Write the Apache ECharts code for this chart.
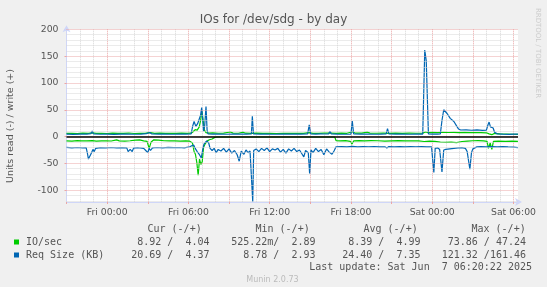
<!DOCTYPE html>
<html>
<head>
<meta charset="utf-8">
<script src="https://cdn.jsdelivr.net/npm/echarts@6/dist/echarts.min.js"></script>
<style>
  html, body { margin: 0; padding: 0; background: #f0f0f0; }
  #chart { width: 547px; height: 287px; }
</style>
</head>
<body>
<div id="chart"></div>
<script>
// hours relative to Fri 00:00, graph runs Thu 21:00 -> Sat 06:20
const tickHours = [0, 6, 12, 18, 24, 30];
const tickLabels = ['Fri 00:00', 'Fri 06:00', 'Fri 12:00', 'Fri 18:00', 'Sat 00:00', 'Sat 06:00'];
const yTicks = [-100, -50, 0, 50, 100, 150, 200];

// IO/sec, read values are drawn below zero
const ioRead = [[-3.0,8.0],[-2.6,8.4],[-2.2,7.6],[-1.9,8.2],[-1.5,8.0],[-1.1,7.4],[-0.8,8.5],[-0.4,8.1],[0.0,8.0],[0.3,8.3],[0.7,6.2],[0.9,8.0],[1.3,8.4],[1.7,7.8],[2.1,6.8],[2.4,6.3],[2.7,7.9],[2.95,9.0],[3.1,22],[3.25,10],[3.45,6.0],[3.8,6.5],[4.2,7.8],[4.6,8.2],[5.0,8.0],[5.4,8.6],[5.8,8.1],[6.1,8.6],[6.3,12],[6.42,28],[6.52,33],[6.62,48],[6.72,72],[6.82,42],[6.92,52],[7.02,47],[7.12,20],[7.25,13],[7.4,8],[7.55,6],[7.75,4.5],[7.95,1.5],[8.1,0.6],[9.5,0.55],[11.0,0.6],[12.5,0.55],[14.0,0.6],[15.5,0.55],[16.8,0.6],[16.9,7.4],[17.2,8.0],[17.6,7.6],[17.95,8.8],[18.08,14],[18.2,8.2],[18.6,7.6],[19.0,7.9],[19.5,7.5],[20.0,7.8],[20.5,8.4],[21.0,8.0],[21.5,7.7],[22.0,8.1],[22.5,7.8],[23.0,8.2],[23.4,9.2],[23.8,8.6],[24.2,9.0],[24.6,10.2],[25.0,11.0],[25.4,10.3],[25.8,11.2],[26.2,9.2],[26.6,8.4],[27.0,7.8],[27.4,7.6],[27.8,8.0],[28.05,9],[28.15,22],[28.28,12],[28.4,24],[28.52,9],[28.9,8.4],[29.4,8.8],[29.9,8.6],[30.33,8.92]];
const ioWrite = [[-3.0,5.8],[-2.6,6.2],[-2.2,5.6],[-1.8,6.4],[-1.4,5.8],[-1.1,6.8],[-0.8,5.9],[-0.4,6.1],[0.0,5.7],[0.4,6.3],[0.8,5.8],[1.2,6.0],[1.6,6.6],[2.0,5.7],[2.4,6.2],[2.8,5.9],[3.0,6.8],[3.2,7.5],[3.5,6.0],[3.9,6.3],[4.3,5.8],[4.7,6.2],[5.1,5.9],[5.5,6.3],[5.9,6.0],[6.2,6.3],[6.35,9],[6.5,13],[6.65,12],[6.8,18],[6.9,30],[7.0,47.24],[7.1,44],[7.18,12],[7.3,7.5],[7.5,6.5],[7.8,6.8],[8.2,6.2],[8.6,6.5],[9.1,8.5],[9.3,6.4],[9.7,6.2],[10.05,8.2],[10.2,6.3],[10.6,6.0],[11.0,6.4],[11.5,5.8],[12.0,6.1],[12.5,5.7],[13.0,6.0],[13.5,5.8],[14.0,6.2],[14.5,5.9],[14.9,7.5],[15.2,6.1],[15.6,6.0],[16.0,6.3],[16.5,6.6],[16.9,6.0],[17.3,6.4],[17.7,6.1],[18.1,9.0],[18.3,6.5],[18.8,6.3],[19.2,8.2],[19.4,6.4],[19.9,6.2],[20.4,6.5],[20.8,6.0],[21.3,6.3],[21.8,6.1],[22.3,6.4],[22.8,6.2],[23.3,6.5],[23.5,8.5],[23.7,7.5],[24.0,7.8],[24.4,7.2],[24.8,8.0],[25.2,7.6],[25.6,7.9],[26.0,7.4],[26.4,7.8],[26.8,7.2],[27.2,7.6],[27.6,7.3],[28.0,7.0],[28.2,5.0],[28.4,3.5],[28.6,6.0],[29.0,5.2],[29.5,4.8],[30.0,4.3],[30.33,4.04]];

// Req Size (KB)
const reqRead = [[-3.0,20.2],[-2.6,21.0],[-2.2,20.4],[-1.8,21.2],[-1.55,20.8],[-1.45,32],[-1.38,42],[-1.25,42],[-1.15,30],[-1.05,24],[-0.95,28],[-0.85,22],[-0.5,20.6],[-0.1,21.0],[0.3,20.4],[0.7,21.2],[1.1,20.6],[1.45,21.0],[1.55,28],[1.7,24],[1.85,28],[1.95,21.5],[2.3,20.8],[2.7,22],[2.85,26],[3.0,30],[3.1,22],[3.2,26],[3.35,21],[3.7,20.4],[4.1,20.9],[4.5,20.2],[4.9,20.8],[5.3,20.4],[5.7,21.0],[6.1,19.0],[6.25,17],[6.4,16],[6.5,22],[6.65,28],[6.8,33],[6.95,40],[7.05,25],[7.15,14],[7.25,12],[7.35,8],[7.5,12],[7.6,22],[7.75,26],[7.9,22],[8.05,30],[8.2,24],[8.4,27],[8.6,22],[8.8,29],[9.0,23],[9.2,31],[9.4,26],[9.6,34],[9.75,46],[9.9,27],[10.1,33],[10.25,25],[10.4,30],[10.55,27],[10.68,30],[10.75,121.32],[10.82,26],[11.0,23],[11.2,28],[11.4,22],[11.6,26],[11.8,21],[12.0,28],[12.2,23],[12.4,25],[12.6,22],[12.8,29],[13.0,24],[13.2,31],[13.4,23],[13.6,27],[13.8,22],[14.0,28],[14.2,25],[14.4,33],[14.52,38],[14.65,26],[14.85,30],[14.95,69],[15.05,25],[15.2,30],[15.4,22],[15.6,28],[15.8,24],[16.0,34],[16.2,23],[16.4,29],[16.6,33],[16.75,27],[16.9,19],[17.3,18.6],[17.7,19.2],[18.1,18.4],[18.5,19.4],[18.9,18.6],[19.3,19.0],[19.7,18.5],[20.1,19.2],[20.5,19.0],[20.65,21.5],[20.8,18.7],[21.2,19.1],[21.6,18.6],[22.0,19.2],[22.4,18.7],[22.8,19.0],[23.2,18.6],[23.6,19.1],[23.95,19.0],[24.12,67],[24.22,22],[24.4,21],[24.55,24],[24.72,66],[24.85,25],[25.0,24],[25.3,23],[25.6,22],[25.9,21],[26.2,20.5],[26.45,22],[26.58,28],[26.68,25],[26.78,61],[26.9,30],[27.0,23],[27.3,19.2],[27.6,18.6],[28.0,19.1],[28.4,18.7],[28.8,19.3],[29.2,18.8],[29.6,19.4],[30.0,19.8],[30.33,20.69]];
const reqWrite = [[-3.0,4.5],[-2.5,4.2],[-2.0,4.6],[-1.5,4.4],[-1.2,5.5],[-1.1,10.5],[-1.0,5.0],[-0.5,4.3],[0.0,4.6],[0.5,4.2],[1.0,4.5],[1.5,4.8],[2.0,4.3],[2.5,4.6],[2.9,5.5],[3.0,8.0],[3.15,7.5],[3.3,4.8],[3.8,4.4],[4.3,4.6],[4.8,4.3],[5.3,4.5],[5.8,4.4],[6.2,4.8],[6.32,20],[6.42,28],[6.55,19],[6.68,24],[6.8,26],[6.9,40],[6.98,54],[7.06,30],[7.12,10],[7.2,20],[7.3,56],[7.38,12],[7.45,5.0],[7.8,4.4],[8.3,4.7],[8.8,4.3],[9.3,4.6],[9.8,4.4],[10.3,4.5],[10.65,5],[10.72,38],[10.8,5],[11.3,4.4],[11.8,4.6],[12.3,4.3],[12.8,4.5],[13.3,4.4],[13.8,4.7],[14.3,4.4],[14.8,4.8],[14.92,22],[15.02,5],[15.4,4.6],[15.75,5],[15.85,8],[15.95,4.8],[16.35,5],[16.45,10],[16.55,5],[17.0,4.5],[17.5,4.3],[18.0,4.6],[18.1,29],[18.2,4.8],[18.7,4.4],[19.2,4.6],[19.7,4.3],[20.2,4.5],[20.6,5],[20.7,15],[20.8,5],[21.3,4.4],[21.8,4.6],[22.3,4.3],[22.8,4.5],[23.3,4.6],[23.4,6],[23.45,161.46],[23.53,161],[23.56,141],[23.68,140],[23.72,5],[24.0,4.6],[24.4,4.4],[24.6,5.0],[24.72,30],[24.85,50],[24.95,48],[25.1,43],[25.2,42],[25.33,34],[25.45,33],[25.6,28],[25.7,27],[25.82,19],[25.95,14],[26.1,12.2],[26.5,12.6],[26.9,11.8],[27.3,12.4],[27.7,11.6],[28.0,12.0],[28.12,22],[28.2,27],[28.3,18],[28.4,17],[28.5,16],[28.6,8],[28.8,5],[29.2,4.6],[29.7,4.2],[30.0,4.5],[30.33,4.37]];

// legend table
const statHeaders = ['Cur (-/+)', 'Min (-/+)', 'Avg (-/+)', 'Max (-/+)'];
const ioStats = ['8.92 /  4.04', '525.22m/  2.89', '8.39 /  4.99', '73.86 / 47.24'];
const reqStats = ['20.69 /  4.37', '8.78 /  2.93', '24.40 /  7.35', '121.32 /161.46'];

const GREEN = '#00cc00';
const BLUE = '#0066b3';
const FONT_COLOR = '#555';
const AXIS_COLOR = '#cfd6f8';
const MGRID = '#eba6a6';
const GRID = '#d6d6d6';

const neg = arr => arr.map(p => [p[0], -p[1]]);

function lineSeries(name, data, color, extra) {
  return Object.assign({
    name: name,
    type: 'line',
    data: data,
    symbol: 'none',
    showSymbol: false,
    lineStyle: { color: color, width: 1.2 },
    itemStyle: { color: color },
    silent: true
  }, extra || {});
}

// horizontal grid: every 10 units gray, every 50 red (y axis min is not a round value)
const hGrid = [];
for (let v = -120; v < 200; v += 10) {
  if (v % 50 !== 0) hGrid.push({ yAxis: v, lineStyle: { color: GRID, type: 'dotted', width: 1 } });
}
yTicks.forEach(v => hGrid.push({ yAxis: v, lineStyle: { color: MGRID, type: 'dotted', width: 1 } }));

const headerX = [147.5, 255.5, 363.5, 471.5];
const valueX = [209.5, 315.5, 420.5, 526];
const mono = '10px "DejaVu Sans Mono"';

function txt(x, y, text, font, fill, align, rotation) {
  return {
    type: 'text', x: x, y: y, rotation: rotation || 0,
    style: { text: text, font: font, fill: fill, align: align, verticalAlign: 'middle', textAlign: align, textVerticalAlign: 'middle' }
  };
}

const graphics = [
  txt(273.5, 20, 'IOs for /dev/sdg - by day', '12px "DejaVu Sans"', FONT_COLOR, 'center'),
  txt(11, 126, 'Units read (-) / write (+)', '9.5px "DejaVu Sans"', FONT_COLOR, 'center', Math.PI / 2),
  txt(537.5, 53, 'RRDTOOL / TOBI OETIKER', '7px "DejaVu Sans"', '#cccccc', 'center', -Math.PI / 2),
  { type: 'rect', shape: { x: 14, y: 239.5, width: 5, height: 5 }, style: { fill: GREEN } },
  { type: 'rect', shape: { x: 14, y: 252.5, width: 5, height: 5 }, style: { fill: BLUE } },
  txt(26, 242.5, 'IO/sec', mono, FONT_COLOR, 'left'),
  txt(26, 255.5, 'Req Size (KB)', mono, FONT_COLOR, 'left'),
  txt(532, 267, 'Last update: Sat Jun  7 06:20:22 2025', mono, FONT_COLOR, 'right'),
  txt(272.5, 280, 'Munin 2.0.73', '8px "DejaVu Sans"', '#bbbbbb', 'center')
];
statHeaders.forEach((t, i) => {
  graphics.push(txt(headerX[i], 229.5, t, mono, FONT_COLOR, 'left'));
  graphics.push(txt(valueX[i], 242.5, ioStats[i], mono, FONT_COLOR, 'right'));
  graphics.push(txt(valueX[i], 255.5, reqStats[i], mono, FONT_COLOR, 'right'));
});

const chart = echarts.init(document.getElementById('chart'));
chart.setOption({
  backgroundColor: '#f0f0f0',
  animation: false,
  grid: { left: 66.5, top: 29.3, width: 451.5, height: 172.7, show: true, backgroundColor: '#ffffff', borderWidth: 0 },
  xAxis: {
    type: 'value',
    min: -3,
    max: 30.3333,
    interval: 3,
    axisLine: { onZero: false, lineStyle: { color: AXIS_COLOR, width: 1 }, symbol: ['none', 'arrow'], symbolSize: [6, 7], symbolOffset: [0, 4] },
    axisTick: { show: true, length: 2, lineStyle: { color: MGRID } },
    axisLabel: {
      showMaxLabel: false,
      margin: 6,
      color: FONT_COLOR,
      fontFamily: 'DejaVu Sans',
      fontSize: 9.3,
      formatter: v => { const i = tickHours.indexOf(Math.round(v * 1000) / 1000); return i >= 0 ? tickLabels[i] : ''; }
    },
    splitLine: { show: true, showMaxLine: false, showMinLine: false, lineStyle: { color: MGRID, type: 'dotted' } },
    minorTick: { show: false, splitNumber: 3 },
    minorSplitLine: { show: true, lineStyle: { color: GRID, type: 'dotted' } }
  },
  yAxis: {
    type: 'value',
    min: -122,
    max: 200,
    axisLine: { show: true, onZero: false, lineStyle: { color: AXIS_COLOR, width: 1 }, symbol: ['none', 'arrow'], symbolSize: [6, 7], symbolOffset: [0, 4] },
    axisTick: { show: true, length: 2, lineStyle: { color: MGRID }, customValues: yTicks },
    axisLabel: { margin: 8, color: FONT_COLOR, fontFamily: 'DejaVu Sans', fontSize: 9.3, customValues: yTicks },
    splitLine: { show: false },
    minorSplitLine: { show: false }
  },
  series: [
    {
      name: 'grid',
      type: 'line',
      data: [],
      z: 1,
      silent: true,
      markLine: { silent: true, symbol: 'none', label: { show: false }, animation: false, data: hGrid }
    },
    lineSeries('IO/sec read', neg(ioRead), GREEN),
    lineSeries('IO/sec write', ioWrite, GREEN),
    lineSeries('Req Size read', neg(reqRead), BLUE),
    lineSeries('Req Size write', reqWrite, BLUE, {
      markLine: {
        silent: true,
        symbol: 'none',
        label: { show: false },
        lineStyle: { color: '#000000', width: 1.5, type: 'solid' },
        data: [{ yAxis: 0 }]
      }
    })
  ],
  graphic: graphics
});
</script>
</body>
</html>
